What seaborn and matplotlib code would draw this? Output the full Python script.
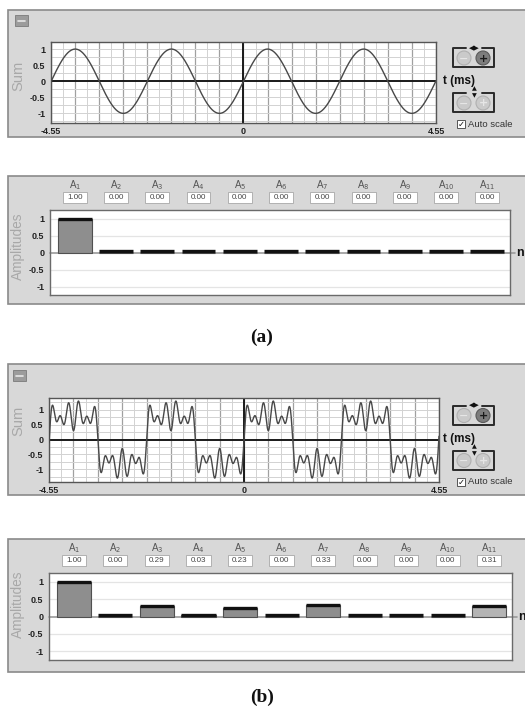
import numpy as np
import pandas as pd
import matplotlib
matplotlib.use("Agg")
import matplotlib.pyplot as plt
import matplotlib.transforms as mtrans
from matplotlib.patches import Rectangle, Circle
import seaborn as sns

# ---------------- data ----------------
harmonics = list(range(1, 12))
amp_labels = [f"A{n}" for n in harmonics]
amps_a = [1.00, 0.00, 0.00, 0.00, 0.00, 0.00, 0.00, 0.00, 0.00, 0.00, 0.00]
amps_b = [1.00, 0.00, 0.29, 0.03, 0.23, 0.00, 0.33, 0.00, 0.00, 0.00, 0.31]
fundamental_khz = 0.44          # 440 Hz, time in ms
t_range = (-4.55, 4.55)
t_tick_labels = ["-4.55", "0", "4.55"]
y_tick_vals = [1, 0.5, 0, -0.5, -1]
y_tick_labels = ["1", "0.5", "0", "-0.5", "-1"]

W, H = 525, 712
sns.set_style("white")
plt.rcParams["font.family"] = ["Liberation Sans", "DejaVu Sans"]

fig = plt.figure(figsize=(W / 100, H / 100), dpi=100)
fig.patch.set_facecolor("white")

bg = fig.add_axes([0, 0, 1, 1], zorder=0)
bg.set_xlim(0, W)
bg.set_ylim(H, 0)
bg.axis("off")


def px_axes(x0, y0, x1, y1):
    return fig.add_axes([x0 / W, 1 - y1 / H, (x1 - x0) / W, (y1 - y0) / H], zorder=2)


def panel(y0, y1):
    bg.add_patch(Rectangle((8, y0), W, y1 - y0, fc="#d8d8d8", ec="#8a8a8a", lw=1.2))


def minus_icon(x, y):
    bg.add_patch(Rectangle((x, y), 13, 11, fc="#9c9c9c", ec="#7a7a7a", lw=0.6))
    bg.plot([x + 3, x + 10], [y + 5.5, y + 5.5], color="#e8e8e8", lw=1.2)


def bracket_box(x0, y0, x1, y1):
    xm = (x0 + x1) / 2
    bg.plot([xm - 8, x0, x0, x1, x1, xm + 8], [y0, y0, y1, y1, y0, y0],
            color="#2a2a2a", lw=1.4)


def circ_button(x, y, sym, dark):
    fc = "#7d7d7d" if dark else "#cacaca"
    ec = "#5a5a5a" if dark else "#b0b0b0"
    tc = "#1a1a1a" if dark else "#e6e6e6"
    bg.add_patch(Circle((x, y), 7, fc=fc, ec=ec, lw=0.8))
    bg.text(x, y + 0.5, sym, ha="center", va="center", fontsize=8,
            fontweight="bold", color=tc, family="DejaVu Sans")


def controls(dy, tms_y):
    bracket_box(453, 48 + dy, 494, 67 + dy)
    bg.text(474, 48 + dy, "\u25C0\u25B6", ha="center", va="center", fontsize=5,
            color="#111", family="DejaVu Sans")
    circ_button(464, 58 + dy, "\u2212", False)
    circ_button(483, 58 + dy, "+", True)
    bracket_box(453, 93 + dy, 494, 112 + dy)
    bg.text(474, 89 + dy, "\u25B2", ha="center", va="center", fontsize=4.5,
            color="#111", family="DejaVu Sans")
    bg.text(474, 96 + dy, "\u25BC", ha="center", va="center", fontsize=4.5,
            color="#111", family="DejaVu Sans")
    circ_button(464, 103 + dy, "\u2212", False)
    circ_button(483, 103 + dy, "+", False)
    bg.add_patch(Rectangle((457, 120 + dy), 8, 8, fc="white", ec="#555", lw=0.7))
    bg.text(461, 124.5 + dy, "\u2713", ha="center", va="center", fontsize=6,
            color="#111", family="DejaVu Sans")
    bg.text(468, 124.5 + dy, "Auto scale", ha="left", va="center", fontsize=6.8,
            color="#333")
    bg.text(443, tms_y, "t (ms)", ha="left", va="center", fontsize=8.5,
            fontweight="bold", color="#111")


# ---------------- backgrounds ----------------
panel(10, 137)
panel(176, 304)
panel(364, 495)
panel(539, 672)
minus_icon(15, 15)
minus_icon(13, 370)
controls(0, 81)
controls(357.5, 439)

bg.text(18, 76, "Sum", rotation=90, ha="center", va="center", fontsize=10.5, color="#a8a8a8")
bg.text(18, 421, "Sum", rotation=90, ha="center", va="center", fontsize=10.5, color="#a8a8a8")
bg.text(18, 246, "Amplitudes", rotation=90, ha="center", va="center", fontsize=9.8, color="#a8a8a8")
bg.text(18, 604, "Amplitudes", rotation=90, ha="center", va="center", fontsize=9.8, color="#a8a8a8")

bg.text(262, 337, "(a)", ha="center", va="center", fontsize=14, fontweight="bold",
        family="Liberation Serif", color="#111")
bg.text(262, 697, "(b)", ha="center", va="center", fontsize=14, fontweight="bold",
        family="Liberation Serif", color="#111")


# ---------------- sum plots ----------------
def sum_plot(ax, amps, ylim):
    t = np.linspace(t_range[0], t_range[1], 3000)
    s = np.zeros_like(t)
    for n, a in zip(harmonics, amps):
        s += a * np.sin(2 * np.pi * n * fundamental_khz * t)
    df = pd.DataFrame({"t": t, "sum": s})
    ax.set_facecolor("white")
    step = (t_range[1] - t_range[0]) / 16
    major = [t_range[0] + k * step for k in range(17)]
    minor = [t_range[0] + (k + 0.5) * step for k in range(16)]
    for x in minor:
        ax.axvline(x, color="#d2d2d2", lw=0.7, zorder=0)
    for x in major:
        ax.axvline(x, color="#a0a0a0", lw=0.9, zorder=0)
    for y in np.arange(-1.25, 1.26, 0.25):
        ax.axhline(y, color="#d2d2d2", lw=0.7, zorder=0)
    ax.axhline(0, color="#1a1a1a", lw=1.4, zorder=1)
    ax.axvline(0, color="#1a1a1a", lw=1.4, zorder=1)
    sns.lineplot(data=df, x="t", y="sum", ax=ax, color="#484848", lw=1.0,
                 sort=False, estimator=None, zorder=3)
    ax.set_xlim(*t_range)
    ax.set_ylim(*ylim)
    ax.set_xticks(major)
    ax.set_xticklabels([t_tick_labels[0]] + [""] * 7 + [t_tick_labels[1]] + [""] * 7 + [t_tick_labels[2]])
    ax.set_yticks(y_tick_vals)
    ax.set_yticklabels(y_tick_labels)
    ax.tick_params(axis="x", direction="in", length=4, width=1, color="#333",
                   labelsize=6.5, pad=3, labelcolor="#222")
    ax.tick_params(axis="y", direction="out", length=3, width=0.8, color="#333",
                   labelsize=6.5, pad=1, labelcolor="#222")
    for lab in ax.get_xticklabels() + ax.get_yticklabels():
        lab.set_fontweight("bold")
    ax.set_xlabel("")
    ax.set_ylabel("")
    for sp in ax.spines.values():
        sp.set_color("#555")
        sp.set_linewidth(1.0)
        sp.set_visible(True)


ax_sa = px_axes(51, 42, 436, 123)
sum_plot(ax_sa, amps_a, (-1.3, 1.22))
ax_sb = px_axes(49, 398, 439, 482)
sum_plot(ax_sb, amps_b, (-1.43, 1.4))


# ---------------- amplitude plots ----------------
def amp_plot(ax, amps, colors):
    ax.set_facecolor("white")
    for y in [1, 0.5, -0.5, -1]:
        ax.axhline(y, color="#e4e4e4", lw=0.9, zorder=0)
    df = pd.DataFrame({"n": amp_labels, "A": amps})
    sns.barplot(data=df, x="n", y="A", hue="n", palette=colors, legend=False,
                width=0.82, edgecolor="#505050", linewidth=0.8, ax=ax, zorder=2)
    for p in ax.patches:
        x0, w, h = p.get_x(), p.get_width(), p.get_height()
        ax.plot([x0, x0 + w], [max(h, 0.03)] * 2, color="#111", lw=2.4,
                solid_capstyle="butt", zorder=3)
    ax.plot([-0.6, 10.66], [0, 0], color="#9a9a9a", lw=1.2, zorder=1, clip_on=False)
    ax.text(10.7, 0, "n", ha="left", va="center", fontsize=9, fontweight="bold", color="#111")
    ax.set_xlim(-0.6, 10.55)
    ax.set_ylim(-1.25, 1.25)
    ax.set_xticks([])
    ax.set_yticks(y_tick_vals)
    ax.set_yticklabels(y_tick_labels)
    ax.tick_params(axis="y", direction="out", length=3, width=0.8, color="#333",
                   labelsize=6.5, pad=1, labelcolor="#222")
    for lab in ax.get_yticklabels():
        lab.set_fontweight("bold")
    ax.set_xlabel("")
    ax.set_ylabel("")
    for sp in ax.spines.values():
        sp.set_color("#6a6a6a")
        sp.set_linewidth(1.0)
        sp.set_visible(True)
    tr = mtrans.blended_transform_factory(ax.transData, ax.transAxes)
    for i, (lab, v) in enumerate(zip(amp_labels, amps)):
        ax.add_patch(Rectangle((i - 0.29, 1.08), 0.58, 0.13, transform=tr,
                               fc="white", ec="#a8a8a8", lw=0.6, clip_on=False))
        ax.text(i, 1.148, f"{v:.2f}", transform=tr, ha="center", va="center",
                fontsize=5.8, color="#444")
        ax.text(i, 1.29, f"A$_{{{lab[1:]}}}$", transform=tr, ha="center", va="center",
                fontsize=7, color="#555")


colors_a = ["#8e8e8e"] * 11
colors_b = ["#8e8e8e"] * 10 + ["#b4b4b4"]
ax_aa = px_axes(50, 210, 510, 295)
amp_plot(ax_aa, amps_a, colors_a)
ax_ab = px_axes(49, 573, 512, 660)
amp_plot(ax_ab, amps_b, colors_b)

fig.savefig("out.png", dpi=100, facecolor="white")
